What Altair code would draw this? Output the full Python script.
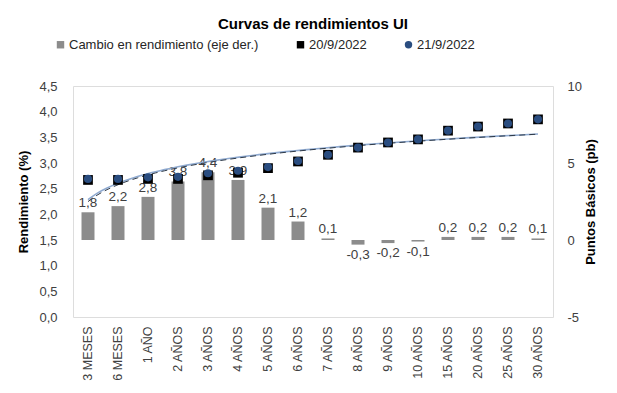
import altair as alt
import pandas as pd

categorias = ["3 MESES", "6 MESES", "1 AÑO", "2 AÑOS", "3 AÑOS", "4 AÑOS", "5 AÑOS", "6 AÑOS",
              "7 AÑOS", "8 AÑOS", "9 AÑOS", "10 AÑOS", "15 AÑOS", "20 AÑOS", "25 AÑOS", "30 AÑOS"]
indice = list(range(1, 17))
cambio_pb = [1.8, 2.2, 2.8, 3.8, 4.4, 3.9, 2.1, 1.2, 0.1, -0.3, -0.2, -0.1, 0.2, 0.2, 0.2, 0.1]
rend_20 = [2.67, 2.67, 2.69, 2.69, 2.76, 2.81, 2.90, 3.03, 3.16, 3.30, 3.40, 3.46, 3.63, 3.71, 3.77, 3.85]
rend_21 = [2.69, 2.69, 2.72, 2.73, 2.80, 2.85, 2.92, 3.04, 3.16, 3.30, 3.40, 3.46, 3.63, 3.71, 3.77, 3.85]

S_BAR = "Cambio en rendimiento (eje der.)"
S_20 = "20/9/2022"
S_21 = "21/9/2022"
series = [S_BAR, S_20, S_21]
colores = ["#8c8c8c", "#000000", "#2a4d80"]
formas = ["square", "square", "circle"]

df_bar = pd.DataFrame({"plazo": categorias, "cambio": cambio_pb, "serie": S_BAR})
df_20 = pd.DataFrame({"plazo": categorias, "idx": indice, "rend": rend_20, "serie": S_20})
df_21 = pd.DataFrame({"plazo": categorias, "idx": indice, "rend": rend_21, "serie": S_21})

FONT = "Liberation Sans"
W, H = 480, 231

xband = alt.Scale(type="band", domain=categorias, paddingInner=0.55, paddingOuter=0.275)
yleft = alt.Scale(domain=[0, 4.5], nice=False, zero=False)
yright = alt.Scale(domain=[-5, 10], nice=False, zero=False)
xq = alt.Scale(domain=[0.5, 16.5], nice=False, zero=False)

color_scale = alt.Scale(domain=series, range=colores)
shape_scale = alt.Scale(domain=series, range=formas)


def mk_legend():
    return alt.Legend(
        title=None, orient="none", direction="horizontal", legendX=-19, legendY=-48,
        columnPadding=35, labelFont=FONT, labelFontSize=13, labelColor="#262626",
        labelOffset=2, labelLimit=400, symbolStrokeWidth=0, symbolSize=55, symbolOpacity=1,
    )


bars = alt.Chart(df_bar).mark_bar(size=13).encode(
    x=alt.X("plazo:N", scale=xband, sort=categorias, title=None,
            axis=alt.Axis(labelAngle=270, labelFont=FONT, labelFontSize=12.5, labelColor="#404040",
                          labelPadding=9, domain=False, ticks=False)),
    y=alt.Y("cambio:Q", scale=yright, title="Puntos Básicos (pb)",
            axis=alt.Axis(orient="right", values=[-5, 0, 5, 10], labelFont=FONT, labelFontSize=13,
                          labelColor="#404040", labelPadding=14, titleFont=FONT, titleFontSize=13,
                          titleColor="#000000", titleAngle=270, titlePadding=16, domain=False,
                          ticks=False, grid=False, labelExpr="replace(datum.label, '−', '-')")),
    color=alt.Color("serie:N", scale=color_scale, legend=mk_legend()),
)

lab_base = alt.Chart(df_bar).transform_calculate(
    lab="replace(replace(format(datum.cambio, '.1f'), '.', ','), '−', '-')"
)
lab_pos = lab_base.transform_filter("datum.cambio >= 0").mark_text(
    baseline="bottom", dy=-2, font=FONT, fontSize=13.5, color="#404040"
).encode(
    x=alt.X("plazo:N", scale=xband, sort=categorias, axis=None),
    y=alt.Y("cambio:Q", scale=yright, axis=None),
    text="lab:N",
)
lab_neg = lab_base.transform_filter("datum.cambio < 0").mark_text(
    baseline="top", dy=3, font=FONT, fontSize=13.5, color="#404040"
).encode(
    x=alt.X("plazo:N", scale=xband, sort=categorias, axis=None),
    y=alt.Y("cambio:Q", scale=yright, axis=None),
    text="lab:N",
)

sq = alt.Chart(df_20).mark_point(filled=True, size=95, opacity=1).encode(
    x=alt.X("plazo:N", scale=xband, sort=categorias, axis=None),
    y=alt.Y("rend:Q", scale=yleft, title="Rendimiento (%)",
            axis=alt.Axis(orient="left", values=[0, 0.5, 1, 1.5, 2, 2.5, 3, 3.5, 4, 4.5],
                          labelFont=FONT, labelFontSize=13, labelColor="#404040", labelPadding=16,
                          titleFont=FONT, titleFontSize=13, titleColor="#000000", titlePadding=8,
                          domain=False, ticks=False, grid=False,
                          labelExpr="replace(format(datum.value, '.1f'), '.', ',')")),
    color=alt.Color("serie:N", scale=color_scale, legend=mk_legend()),
    shape=alt.Shape("serie:N", scale=shape_scale, legend=mk_legend()),
)

circ = alt.Chart(df_21).mark_point(filled=True, size=66, opacity=1).encode(
    x=alt.X("plazo:N", scale=xband, sort=categorias, axis=None),
    y=alt.Y("rend:Q", scale=yleft, axis=None),
    color=alt.Color("serie:N", scale=color_scale, legend=mk_legend()),
    shape=alt.Shape("serie:N", scale=shape_scale, legend=mk_legend()),
)

trend21 = alt.Chart(df_21).transform_regression(
    "idx", "rend", method="log", extent=[1, 16]
).mark_line(color="#8faad0", strokeWidth=1.6).encode(
    x=alt.X("idx:Q", scale=xq, axis=None),
    y=alt.Y("rend:Q", scale=yleft, axis=None),
)
trend20 = alt.Chart(df_20).transform_regression(
    "idx", "rend", method="log", extent=[1, 16]
).mark_line(color="#2f3a48", strokeWidth=1, strokeDash=[6, 4]).encode(
    x=alt.X("idx:Q", scale=xq, axis=None),
    y=alt.Y("rend:Q", scale=yleft, axis=None),
)

chart = alt.layer(
    bars, lab_pos, lab_neg, trend21, trend20, sq, circ
).resolve_scale(
    x="independent", y="independent", color="shared", shape="shared"
).properties(
    width=W, height=H,
    title=alt.TitleParams("Curvas de rendimientos UI", font=FONT, fontSize=15, fontWeight="bold",
                          color="#000000", anchor="middle", offset=6),
    autosize=alt.AutoSizeParams(type="none"),
    padding={"left": 65, "top": 78, "right": 50, "bottom": 70},
).configure_view(stroke=None).configure(background="white")

chart.save("out.html", embed_options={"renderer": "svg", "actions": False})
